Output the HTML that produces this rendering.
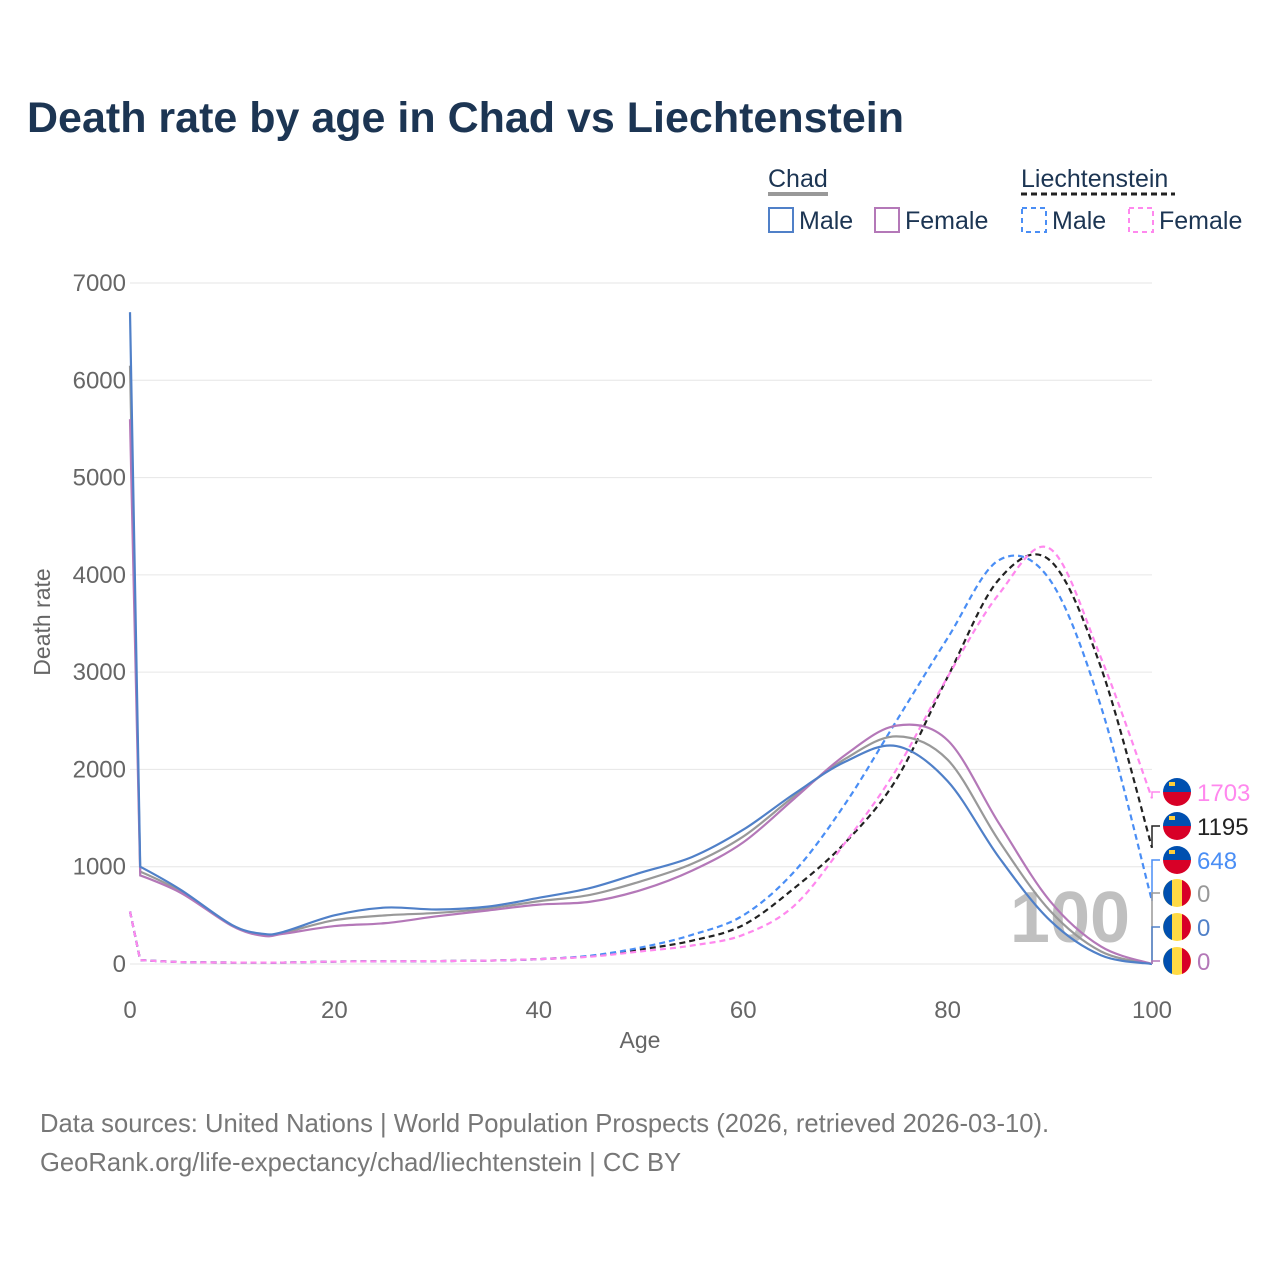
<!DOCTYPE html>
<html><head><meta charset="utf-8">
<style>
body{margin:0;background:#fff;font-family:"Liberation Sans",sans-serif;}
#wrap{position:relative;width:1280px;height:1280px;overflow:hidden;}
</style></head>
<body>
<div id="wrap">
<svg id="svg" width="1280" height="1280" xmlns="http://www.w3.org/2000/svg">
<text x="27" y="132" font-size="43" font-weight="bold" fill="#1c3553">Death rate by age in Chad vs Liechtenstein</text>
<g font-size="25" fill="#1c3553">
<text x="768" y="187">Chad</text>
<line x1="768" y1="194" x2="828" y2="194" stroke="#999" stroke-width="4"/>
<text x="1021" y="187">Liechtenstein</text>
<line x1="1021" y1="194" x2="1175" y2="194" stroke="#222" stroke-width="3" stroke-dasharray="6,4"/>
<g><rect x="769" y="208" width="24" height="24" fill="none" stroke="#5080c8" stroke-width="2"/><text x="799" y="229">Male</text></g>
<g><rect x="875" y="208" width="24" height="24" fill="none" stroke="#b478b8" stroke-width="2"/><text x="905" y="229">Female</text></g>
<g><rect x="1022" y="208" width="24" height="24" fill="none" stroke="#4a8ef5" stroke-width="2" stroke-dasharray="5,4"/><text x="1052" y="229">Male</text></g>
<g><rect x="1129" y="208" width="24" height="24" fill="none" stroke="#ff88ee" stroke-width="2" stroke-dasharray="5,4"/><text x="1159" y="229">Female</text></g>
</g>
<g id="grid"></g>
<text x="1070" y="942" font-size="72" font-weight="bold" fill="#c0c0c0" text-anchor="middle">100</text>
<g id="lines"></g>
<g id="labels"></g>
<text x="640" y="1048" font-size="23" fill="#666" text-anchor="middle">Age</text>
<text transform="translate(50,622) rotate(-90)" font-size="23" fill="#666" text-anchor="middle">Death rate</text>
<text x="40" y="1132" font-size="25.6" fill="#777">Data sources: United Nations | World Population Prospects (2026, retrieved 2026-03-10).</text>
<text x="40" y="1171" font-size="25.6" fill="#777">GeoRank.org/life-expectancy/chad/liechtenstein | CC BY</text>
</svg>
</div>
<script>
const xTicks=[0,20,40,60,80,100];
const yTicks=[0,1000,2000,3000,4000,5000,6000,7000];
const ages=[0,1,5,10,13,15,20,25,30,35,40,45,50,55,60,65,70,75,80,85,90,95,100];
const chadMale=[6700,1000,760,400,310,330,500,580,560,590,680,780,940,1100,1380,1750,2080,2240,1880,1100,450,90,0];
const chadFemale=[5600,910,730,390,290,310,390,420,490,550,610,640,760,960,1250,1700,2150,2450,2300,1450,650,180,0];
const chadTotal=[6150,950,745,395,300,320,450,500,525,570,645,710,850,1030,1310,1725,2110,2340,2100,1270,550,130,0];
const liMale=[540,40,20,15,15,15,25,28,30,35,50,85,170,300,500,950,1650,2500,3350,4150,3950,2650,648];
const liFemale=[540,40,20,15,15,15,25,28,30,35,50,75,130,190,300,600,1250,2000,2950,3800,4270,3150,1703];
const liTotal=[540,40,20,15,15,15,25,28,30,35,50,80,150,240,400,780,1250,1900,2950,3950,4150,3050,1195];
const NS="http://www.w3.org/2000/svg";
const X=a=>130+a*(1152-130)/100;
const Y=v=>964-v*(964-283)/7000;
function mk(t,at,p){const e=document.createElementNS(NS,t);for(const k in at)e.setAttribute(k,at[k]);p.appendChild(e);return e;}
const grid=document.getElementById('grid');
yTicks.forEach(v=>{
 const l=mk('line',{x1:130,x2:1152,y1:Y(v),y2:Y(v),stroke:'#e6e6e6','stroke-width':1},grid);
 
 
 const t=mk('text',{x:126,y:Y(v)+8,'font-size':24,fill:'#666','text-anchor':'end'},grid);t.textContent=v;
 
 
});
xTicks.forEach(v=>{
 const t=mk('text',{x:X(v),y:1018,'font-size':24,fill:'#666','text-anchor':'middle'},grid);t.textContent=v;
 
 
});
function path(vals){
 const p=ages.map((a,i)=>[X(a),Y(vals[i])]);
 let d='M'+p[0][0]+','+p[0][1]+' L'+p[1][0]+','+p[1][1];
 for(let i=1;i<p.length-1;i++){
  const p0=p[i-1],p1=p[i],p2=p[i+1],p3=p[Math.min(i+2,p.length-1)];
  const s=i===1?0:1;
  const c1=[p1[0]+s*(p2[0]-p0[0])/6,p1[1]+s*(p2[1]-p0[1])/6];
  const c2=[p2[0]-(p3[0]-p1[0])/6,p2[1]-(p3[1]-p1[1])/6];
  d+=` C${c1[0]},${c1[1]} ${c2[0]},${c2[1]} ${p2[0]},${p2[1]}`;
 }
 return d;
}
const lines=document.getElementById('lines');
const series=[
 ['line-liechtenstein-total',liTotal,'#222','6,4'],
 ['line-liechtenstein-male',liMale,'#4a8ef5','6,4'],
 ['line-liechtenstein-female',liFemale,'#ff88ee','6,4'],
 ['line-chad-total',chadTotal,'#999',''],
 ['line-chad-female',chadFemale,'#b478b8',''],
 ['line-chad-male',chadMale,'#5080c8','']];
series.forEach(s=>{
 const e=mk('path',{d:path(s[1]),fill:'none',stroke:s[2],'stroke-width':2.2,'stroke-dasharray':s[3]},lines);
 
 
});
const labels=document.getElementById('labels');
const lab=[[liFemale[22],'#ff88ee',792,'li'],[liTotal[22],'#222',826,'li'],[liMale[22],'#4a8ef5',860,'li'],[chadTotal[22],'#999',893,'td'],[chadMale[22],'#5080c8',927,'td'],[chadFemale[22],'#b478b8',961,'td']];
lab.forEach((L,i)=>{
 const g=mk('g',{},labels);
 
 
 mk('polyline',{points:`${X(100)},${Y(L[0])} ${X(100)},${L[2]} 1160,${L[2]}`,fill:'none',stroke:L[1],'stroke-width':1.5},g);
 const cx=1177,cy=L[2],r=14;
 if(L[3]==='li'){
  mk('path',{d:`M${cx-r},${cy} A${r},${r} 0 0 1 ${cx+r},${cy} Z`,fill:'#0050b0'},g);
  mk('path',{d:`M${cx-r},${cy} A${r},${r} 0 0 0 ${cx+r},${cy} Z`,fill:'#d80027'},g);
  mk('rect',{x:cx-8,y:cy-10,width:6,height:4,fill:'#ffce3a'},g);
 }else{
  mk('circle',{cx,cy,r,fill:'#ffda44'},g);
  mk('path',{d:`M${cx-5},${cy-r+1} A${r},${r} 0 0 0 ${cx-5},${cy+r-1} Z`,fill:'#0050b0'},g);
  mk('path',{d:`M${cx+5},${cy-r+1} A${r},${r} 0 0 1 ${cx+5},${cy+r-1} Z`,fill:'#d80027'},g);
 }
 const t=mk('text',{x:1197,y:cy+9,'font-size':24,fill:L[1]},g);t.textContent=L[0];
});
</script>
</body></html>
